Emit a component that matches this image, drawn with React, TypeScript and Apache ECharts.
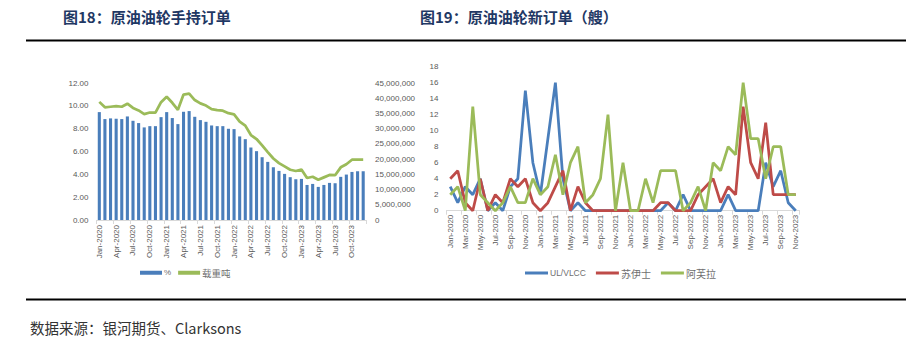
import React, { useEffect, useRef } from "react";
import * as echarts from "echarts";

const MONTHS = ["Jan", "Feb", "Mar", "Apr", "May", "Jun", "Jul", "Aug", "Sep", "Oct", "Nov", "Dec"];
const YEARS = [2020, 2021, 2022, 2023];
const leftCategories = YEARS.flatMap((y) => MONTHS.map((m) => `${m}-${y}`)); // Jan-2020 .. Dec-2023
const rightCategories = leftCategories.slice(0, 47); // Jan-2020 .. Nov-2023

// 图18 原油油轮手持订单
const orderbookPct = [
  9.45, 8.84, 8.9, 8.87, 8.84, 9.07, 8.69, 8.49, 8.11, 8.22, 8.22, 9.01,
  9.45, 8.93, 8.4, 9.48, 9.54, 9.04, 8.75, 8.6, 8.28, 8.22, 8.22, 7.99,
  7.96, 7.32, 7.08, 6.35, 6.03, 5.5, 5.09, 4.62, 4.3, 4.04, 3.75, 3.57,
  3.6, 3.07, 3.16, 2.9, 3.07, 3.25, 3.22, 3.78, 3.98, 4.21, 4.27, 4.27,
];
const orderbookDwt = [
  38800000, 37000000, 37200000, 37400000, 37200000, 38200000, 36800000, 36000000, 34800000, 35300000, 35300000, 38700000,
  40500000, 38500000, 36200000, 41200000, 41500000, 39400000, 38300000, 37600000, 36400000, 36100000, 35900000, 35100000,
  34700000, 32300000, 31000000, 27900000, 26600000, 24500000, 22300000, 20200000, 18700000, 17600000, 16500000, 16100000,
  16600000, 13800000, 14200000, 13200000, 14000000, 14800000, 14700000, 17300000, 18300000, 19800000, 19800000, 19800000,
];

// 图19 原油油轮新订单（艘）
const ulvlcc = [
  3, 1, 3, 2, 4, 0, 1, 0, 3, 4, 15, 6,
  2, 9, 16, 4, 0, 1, 0, 0, 0, 0, 0, 0,
  0, 0, 0, 0, 0, 1, 0, 2, 0, 0, 0, 0,
  0, 2, 0, 0, 0, 0, 6, 3, 5, 1, 0,
];
const suezmax = [
  4, 5, 1, 0, 4, 0, 2, 1, 4, 3, 4, 1,
  0, 1, 3, 5, 0, 3, 1, 0, 0, 0, 0, 0,
  0, 0, 0, 0, 1, 1, 0, 0, 0, 2, 3, 4,
  1, 3, 2, 13, 6, 4, 11, 2, 2, 2, 2,
];
const aframax = [
  2, 3, 0, 13, 2, 1, 0, 1, 3, 1, 1, 4,
  2, 3, 7, 2, 6, 8, 1, 2, 4, 12, 0, 6,
  0, 0, 4, 1, 5, 5, 5, 0, 1, 3, 0, 6,
  5, 8, 7, 16, 9, 9, 4, 8, 8, 2, 2,
];

const leftTitle = "图18：原油油轮手持订单";
const rightTitle = "图19：原油油轮新订单（艘）";
const sourceText = "数据来源：银河期货、Clarksons";

const LATIN = "'Liberation Sans', Arial, sans-serif";
const CJK = "'Noto Sans CJK SC', sans-serif";
const LABEL_COLOR = "#595959";
const LEGEND_COLOR = "#6F6F6F";
const BLUE = "#4A7EBB";
const RED = "#BE4B48";
const GREEN = "#9BBB59";

const legendFormatter = (name: string) =>
  /[\u4e00-\u9fff]/.test(name) ? `{c|${name}}` : `{l|${name}}`;

export default function App() {
  const ref = useRef<HTMLDivElement>(null);

  useEffect(() => {
    if (!ref.current) return;
    const chart = echarts.init(ref.current, undefined, { renderer: "svg" });
    const axisLabelBase = { color: LABEL_COLOR, fontSize: 8, fontFamily: LATIN };
    const option: any = {
      animation: false,
      backgroundColor: "#ffffff",
      graphic: [
        {
          type: "text",
          left: 63,
          top: 9,
          style: { text: leftTitle, fill: "#1F3864", font: `bold 15px ${CJK}` },
        },
        {
          type: "text",
          left: 420,
          top: 9,
          style: { text: rightTitle, fill: "#1F3864", font: `bold 15px ${CJK}` },
        },
        {
          type: "line",
          shape: { x1: 26, y1: 40.5, x2: 906, y2: 40.5 },
          style: { stroke: "#000", lineWidth: 2 },
        },
        {
          type: "line",
          shape: { x1: 26, y1: 299.5, x2: 906, y2: 299.5 },
          style: { stroke: "#000", lineWidth: 2 },
        },
        {
          type: "text",
          left: 30,
          top: 320,
          style: { text: sourceText, fill: "#333333", font: `14.5px ${CJK}` },
        },
      ],
      legend: [
        {
          left: 140,
          top: 268,
          padding: 0,
          itemGap: 7,
          itemWidth: 22,
          itemHeight: 4,
          data: [
            { name: "%", icon: "rect" },
            { name: "载重吨", icon: "rect" },
          ],
          formatter: legendFormatter,
          textStyle: {
            color: LEGEND_COLOR,
            padding: [0, 0, 0, -3],
            rich: {
              c: { fontSize: 9.5, fontFamily: CJK, color: LEGEND_COLOR },
              l: { fontSize: 8, fontFamily: LATIN, color: LEGEND_COLOR },
            },
          },
        },
        {
          left: 525,
          top: 268,
          padding: 0,
          itemGap: 10,
          itemWidth: 23,
          itemHeight: 3,
          data: [
            { name: "UL/VLCC", icon: "rect" },
            { name: "苏伊士", icon: "rect" },
            { name: "阿芙拉", icon: "rect" },
          ],
          formatter: legendFormatter,
          textStyle: {
            color: LEGEND_COLOR,
            padding: [0, 0, 0, -3],
            rich: {
              c: { fontSize: 10, fontFamily: CJK, color: LEGEND_COLOR },
              l: { fontSize: 8.5, fontFamily: LATIN, color: LEGEND_COLOR },
            },
          },
        },
      ],
      grid: [
        { left: 96.5, top: 83, width: 269.5, height: 137, containLabel: false },
        { left: 446.5, top: 66.7, width: 353, height: 144, containLabel: false },
      ],
      xAxis: [
        {
          type: "category",
          gridIndex: 0,
          data: leftCategories,
          boundaryGap: true,
          axisLine: { lineStyle: { color: "#D9D9D9", width: 1 } },
          axisTick: { show: true, interval: 2, length: 4, lineStyle: { color: "#D9D9D9" } },
          axisLabel: { ...axisLabelBase, interval: 2, rotate: 90, margin: 5 },
          splitLine: { show: false },
        },
        {
          type: "category",
          gridIndex: 1,
          data: rightCategories,
          boundaryGap: true,
          axisLine: { lineStyle: { color: "#D9D9D9", width: 1 } },
          axisTick: { show: true, interval: 1, length: 4, lineStyle: { color: "#D9D9D9" } },
          axisLabel: { ...axisLabelBase, interval: 1, rotate: 90, margin: 4 },
          splitLine: { show: false },
        },
      ],
      yAxis: [
        {
          type: "value",
          gridIndex: 0,
          min: 0,
          max: 12,
          interval: 2,
          axisLine: { show: false },
          axisTick: { show: false },
          splitLine: { show: false },
          axisLabel: { ...axisLabelBase, margin: 8, formatter: (v: number) => v.toFixed(2) },
        },
        {
          type: "value",
          gridIndex: 0,
          position: "right",
          min: 0,
          max: 45000000,
          interval: 5000000,
          axisLine: { show: false },
          axisTick: { show: false },
          splitLine: { show: false },
          axisLabel: {
            ...axisLabelBase,
            margin: 9,
            formatter: (v: number) => v.toLocaleString("en-US"),
          },
        },
        {
          type: "value",
          gridIndex: 1,
          min: 0,
          max: 18,
          interval: 2,
          axisLine: { show: false },
          axisTick: { show: false },
          splitLine: { show: false },
          axisLabel: { ...axisLabelBase, margin: 8 },
        },
      ],
      series: [
        {
          name: "%",
          type: "bar",
          xAxisIndex: 0,
          yAxisIndex: 0,
          data: orderbookPct,
          barWidth: "55%",
          itemStyle: { color: BLUE },
        },
        {
          name: "载重吨",
          type: "line",
          xAxisIndex: 0,
          yAxisIndex: 1,
          data: orderbookDwt,
          symbol: "none",
          showSymbol: false,
          lineStyle: { color: GREEN, width: 2.75 },
          itemStyle: { color: GREEN },
        },
        {
          name: "UL/VLCC",
          type: "line",
          xAxisIndex: 1,
          yAxisIndex: 2,
          data: ulvlcc,
          symbol: "none",
          showSymbol: false,
          lineStyle: { color: BLUE, width: 2.75 },
          itemStyle: { color: BLUE },
        },
        {
          name: "苏伊士",
          type: "line",
          xAxisIndex: 1,
          yAxisIndex: 2,
          data: suezmax,
          symbol: "none",
          showSymbol: false,
          lineStyle: { color: RED, width: 2.75 },
          itemStyle: { color: RED },
        },
        {
          name: "阿芙拉",
          type: "line",
          xAxisIndex: 1,
          yAxisIndex: 2,
          data: aframax,
          symbol: "none",
          showSymbol: false,
          lineStyle: { color: GREEN, width: 2.75 },
          itemStyle: { color: GREEN },
        },
      ],
    };
    chart.setOption(option);
    return () => chart.dispose();
  }, []);

  return (
    <div
      ref={ref}
      style={{ position: "fixed", left: 0, top: 0, width: 916, height: 354, background: "#fff" }}
    />
  );
}
